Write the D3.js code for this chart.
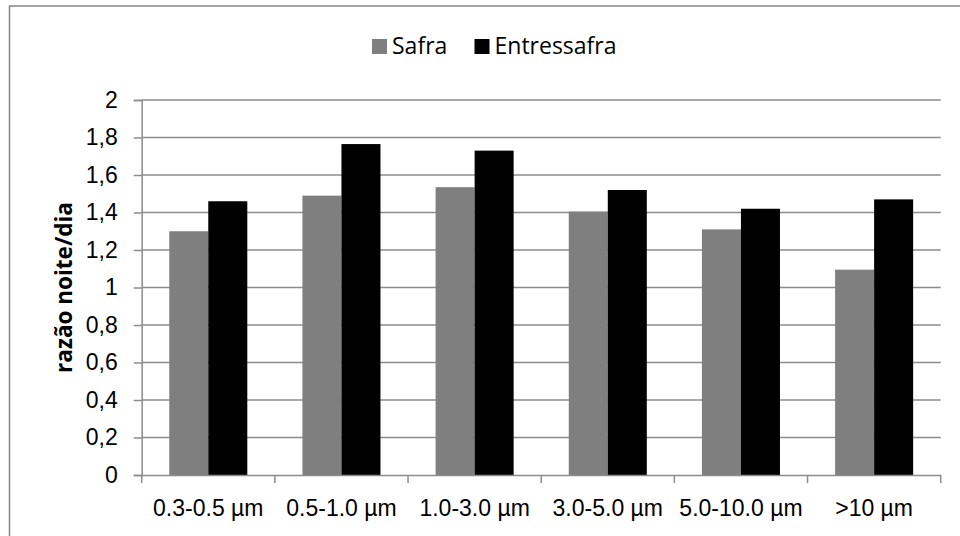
<!DOCTYPE html>
<html>
<head>
<meta charset="utf-8">
<script src="https://cdn.jsdelivr.net/npm/d3@7"></script>
<style>
  body { margin: 0; background: #fff; }
  svg { display: block; font-family: "Open Sans", sans-serif; }
  .tick text { fill: #000; }
</style>
</head>
<body>
<div id="chart"></div>
<script>
// categories and series
var categories = ["0.3-0.5 µm", "0.5-1.0 µm", "1.0-3.0 µm", "3.0-5.0 µm", "5.0-10.0 µm", ">10 µm"]
var seriesNames = ["Safra", "Entressafra"]
var safra = [1.30, 1.49, 1.535, 1.405, 1.31, 1.095]
var entressafra = [1.46, 1.765, 1.73, 1.52, 1.42, 1.47]
var yTicks = [0, 0.2, 0.4, 0.6, 0.8, 1, 1.2, 1.4, 1.6, 1.8, 2]
var colors = {"Safra": "#7f7f7f", "Entressafra": "#000000"}

var width = 960, height = 536
var margin = {top: 100, right: 19.3, bottom: 61, left: 141.7}

var rows = categories.map((c, i) => ({cat: c, Safra: safra[i], Entressafra: entressafra[i]}))

var svg = d3.select("#chart").append("svg")
    .attr("width", width)
    .attr("height", height)

// outer chart frame (runs off the right and bottom edge)
svg.append("rect")
    .attr("x", 9.5).attr("y", 6)
    .attr("width", 1000).attr("height", 600)
    .attr("fill", "none")
    .attr("stroke", "#868686")
    .attr("stroke-width", 1.5)

var x0 = d3.scaleBand()
    .domain(categories)
    .range([margin.left, width - margin.right])

var bw = x0.bandwidth()
var x1 = d3.scaleBand()
    .domain(seriesNames)
    .range([bw * 0.207, bw * 0.793])

var y = d3.scaleLinear()
    .domain([0, 2])
    .range([height - margin.bottom, margin.top])

var fmt = d3.formatLocale({decimal: ",", thousands: ".", grouping: [3], currency: ["", ""]}).format("~g")

// gridlines
svg.append("g")
    .selectAll("line")
    .data(yTicks.filter(d => d > 0))
    .enter()
    .append("line")
    .attr("x1", margin.left)
    .attr("x2", width - margin.right)
    .attr("y1", d => y(d))
    .attr("y2", d => y(d))
    .attr("stroke", "#8c8c8c")
    .attr("stroke-width", 1.5)

// bars
var groups = svg.append("g")
    .selectAll("g")
    .data(rows)
    .enter()
    .append("g")
    .attr("transform", d => "translate(" + x0(d.cat) + ",0)")

groups.selectAll("rect")
    .data(d => seriesNames.map(s => ({key: s, value: d[s]})))
    .enter()
    .append("rect")
    .attr("x", d => x1(d.key))
    .attr("width", x1.bandwidth())
    .attr("y", d => y(d.value))
    .attr("height", d => y(0) - y(d.value))
    .attr("fill", d => colors[d.key])

// y axis
var yAxis = svg.append("g")
    .attr("transform", "translate(" + margin.left + ",0)")
    .call(d3.axisLeft(y).tickValues(yTicks).tickFormat(fmt).tickSizeOuter(0).tickSize(8).tickPadding(16))
yAxis.selectAll("text").style("font-size", "23px")

// x axis: ticks on category boundaries
var xAxis = svg.append("g")
    .attr("transform", "translate(0," + y(0) + ")")
    .call(d3.axisBottom(x0).tickSize(0).tickPadding(25))
xAxis.selectAll("text").style("font-size", "23px")

svg.append("g")
    .selectAll("line")
    .data(d3.range(categories.length + 1))
    .enter()
    .append("line")
    .attr("x1", i => margin.left + i * bw)
    .attr("x2", i => margin.left + i * bw)
    .attr("y1", y(0))
    .attr("y2", y(0) + 8)
    .attr("stroke", "#8c8c8c")
    .attr("stroke-width", 1.5)

svg.selectAll(".domain").attr("stroke", "#8c8c8c").attr("stroke-width", 1.5)
svg.selectAll(".tick line").attr("stroke", "#8c8c8c").attr("stroke-width", 1.5)

// y axis title
svg.append("text")
    .attr("transform", "translate(72," + (margin.top + (y(0) - margin.top) / 2) + ") rotate(-90)")
    .style("text-anchor", "middle")
    .style("font-size", "22.5px")
    .style("font-weight", "bold")
    .text("razão noite/dia")

// legend
var legendPos = [{x: 372}, {x: 474.5}]
var legend = svg.append("g")
    .selectAll("g")
    .data(seriesNames)
    .enter()
    .append("g")
    .attr("transform", (d, i) => "translate(" + legendPos[i].x + ",39)")

legend.append("rect")
    .attr("width", 15)
    .attr("height", 15)
    .attr("fill", d => colors[d])

legend.append("text")
    .attr("x", 20)
    .attr("y", 15)
    .style("font-size", "23px")
    .text(d => d)
</script>
</body>
</html>
